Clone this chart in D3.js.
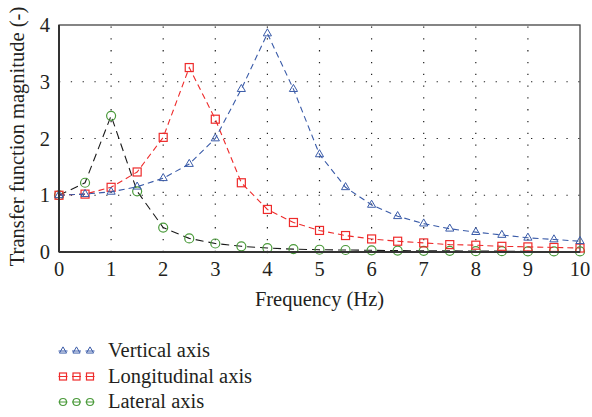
<!DOCTYPE html>
<html>
<head>
<meta charset="utf-8">
<script src="https://cdn.jsdelivr.net/npm/d3@7"></script>
<style>
  body { margin: 0; background: #fff; }
  svg { display: block; font-family: "Liberation Serif", "DejaVu Serif", serif; }
</style>
</head>
<body>
<svg id="chart" width="592" height="417"></svg>
<script>
// frequency steps (Hz)
const freq = d3.range(0, 10.01, 0.5);
const xTicks = [0,1,2,3,4,5,6,7,8,9,10];
const yTicks = [0,1,2,3,4];

const vertical = [1.0,1.02,1.06,1.15,1.3,1.55,2.0,2.87,3.85,2.87,1.72,1.14,0.83,0.63,0.5,0.41,0.35,0.3,0.25,0.22,0.19];
const longitudinal = [1.0,1.02,1.14,1.41,2.02,3.25,2.34,1.22,0.75,0.52,0.38,0.29,0.23,0.19,0.16,0.13,0.12,0.1,0.09,0.08,0.07];
const lateral = [1.0,1.22,2.4,1.07,0.43,0.24,0.15,0.1,0.07,0.05,0.04,0.035,0.03,0.025,0.02,0.02,0.015,0.015,0.01,0.01,0.01];

const series = [
  { name: 'Vertical axis', vals: vertical, line: '#3a5ba8', mark: '#3a5ba8', shape: 'tri', dash: '6,4' },
  { name: 'Longitudinal axis', vals: longitudinal, line: '#ee2b2b', mark: '#ee2b2b', shape: 'sq', dash: '6,4' },
  { name: 'Lateral axis', vals: lateral, line: '#1a1a1a', mark: '#4a9a3a', shape: 'circ', dash: '8,5' }
];

const svg = d3.select('#chart');
const m = { left: 59, right: 12, top: 25, bottom: 165 };
const W = 592, H = 417;
const FS = 20.5;
const x = d3.scaleLinear().domain([0, 10]).range([m.left, W - m.right]);
const y = d3.scaleLinear().domain([0, 4]).range([H - m.bottom, m.top]);

// grid
const grid = svg.append('g').attr('stroke', '#222').attr('stroke-width', 1.2).attr('stroke-dasharray', '1.3,10.5');
grid.selectAll('line.v').data(xTicks.slice(1, -1)).join('line')
  .attr('x1', d => x(d)).attr('x2', d => x(d)).attr('y1', y(0)).attr('y2', y(4));
grid.selectAll('line.h').data(yTicks.slice(1, -1)).join('line')
  .attr('x1', x(0)).attr('x2', x(10)).attr('y1', d => y(d)).attr('y2', d => y(d));

// frame
svg.append('rect').attr('x', x(0)).attr('y', y(4)).attr('width', x(10) - x(0)).attr('height', y(0) - y(4))
  .attr('fill', 'none').attr('stroke', '#444').attr('stroke-width', 1.3);

function marker(sel, shape, color, s) {
  if (shape === 'tri') {
    sel.append('path').attr('d', d3.symbol(d3.symbolTriangle, s * s * 0.45)())
      .attr('fill', 'none').attr('stroke', color).attr('stroke-width', 1);
  } else if (shape === 'sq') {
    sel.append('rect').attr('x', -s / 2).attr('y', -s / 2).attr('width', s).attr('height', s)
      .attr('fill', 'none').attr('stroke', color).attr('stroke-width', 1.2);
  } else {
    sel.append('circle').attr('r', s / 2).attr('fill', 'none').attr('stroke', color).attr('stroke-width', 1.2);
  }
}

const line = d3.line().x((d, i) => x(freq[i])).y(d => y(d));
series.slice().reverse().forEach(s => {
  const g = svg.append('g');
  g.append('path').datum(s.vals).attr('d', line).attr('fill', 'none')
    .attr('stroke', s.line).attr('stroke-width', 1.1).attr('stroke-dasharray', s.dash);
  g.selectAll('g.pt').data(s.vals).join('g')
    .attr('transform', (d, i) => `translate(${x(freq[i])},${y(d)})`)
    .each(function () { marker(d3.select(this), s.shape, s.mark, s.shape === 'circ' ? 9 : 8); });
});

// axes lines (left & bottom heavier)
svg.append('line').attr('x1', x(0)).attr('x2', x(0)).attr('y1', y(0)).attr('y2', y(4)).attr('stroke', '#333').attr('stroke-width', 2);
svg.append('line').attr('x1', x(0)).attr('x2', x(10)).attr('y1', y(0)).attr('y2', y(0)).attr('stroke', '#333').attr('stroke-width', 2);

// tick labels
svg.append('g').selectAll('text').data(xTicks).join('text')
  .attr('x', d => x(d)).attr('y', y(0) + 24).attr('text-anchor', 'middle')
  .attr('font-size', FS).attr('fill', '#231f20').text(d => d);
svg.append('g').selectAll('text').data(yTicks).join('text')
  .attr('x', x(0) - 9).attr('y', d => y(d) + 7).attr('text-anchor', 'end')
  .attr('font-size', FS).attr('fill', '#231f20').text(d => d);

svg.append('text').attr('x', (x(0) + x(10)) / 2).attr('y', 306).attr('text-anchor', 'middle')
  .attr('font-size', FS).attr('fill', '#231f20').text('Frequency (Hz)');
svg.append('text').attr('transform', `translate(24,${(y(0) + y(4)) / 2 - 2}) rotate(-90)`)
  .attr('text-anchor', 'middle').attr('font-size', FS).attr('fill', '#231f20').text('Transfer function magnitude (-)');

// legend
const leg = svg.append('g');
series.forEach((s, k) => {
  const ly = 351 + k * 25.5;
  const row = leg.append('g').attr('transform', `translate(0,${ly})`);
  [63, 76.5, 90].forEach(px => {
    row.append('line').attr('x1', px - 4.5).attr('x2', px + 4.5).attr('y1', 0).attr('y2', 0)
      .attr('stroke', s.mark).attr('stroke-width', 1);
    const gm = row.append('g').attr('transform', `translate(${px},0)`);
    marker(gm, s.shape, s.mark, 7);
  });
  row.append('text').attr('x', 108).attr('y', 6).attr('font-size', FS).attr('fill', '#231f20').text(s.name);
});
</script>
</body>
</html>
